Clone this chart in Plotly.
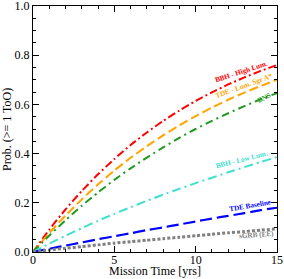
import plotly.graph_objects as go

years = [0, 1, 2, 3, 4, 5, 6, 7, 8, 9, 10, 11, 12, 13, 14, 15]
bbh_high = [0.0, 0.091, 0.173, 0.248, 0.316, 0.378, 0.435, 0.486, 0.533, 0.575, 0.614, 0.649, 0.681, 0.710, 0.736, 0.760]
tde_sgra = [0.0, 0.077, 0.148, 0.214, 0.275, 0.331, 0.383, 0.430, 0.474, 0.515, 0.552, 0.587, 0.619, 0.648, 0.675, 0.700]
bns = [0.0, 0.067, 0.129, 0.188, 0.242, 0.293, 0.340, 0.384, 0.425, 0.464, 0.500, 0.533, 0.564, 0.593, 0.621, 0.646]
bbh_low = [0.0, 0.034, 0.066, 0.097, 0.127, 0.155, 0.182, 0.208, 0.233, 0.257, 0.280, 0.302, 0.324, 0.345, 0.366, 0.386]
tde_base = [0.0, 0.013, 0.026, 0.039, 0.052, 0.064, 0.076, 0.089, 0.100, 0.112, 0.124, 0.136, 0.147, 0.158, 0.170, 0.180]
sgrb = [0.0, 0.008, 0.015, 0.022, 0.029, 0.036, 0.042, 0.048, 0.054, 0.060, 0.066, 0.072, 0.078, 0.083, 0.089, 0.094]

x_title = "Mission Time [yrs]"
y_title = "Prob. (>= 1 ToO)"

series = [
    ("BBH - High Lum.", bbh_high, "#ff0000", "8px,3px,2px,3px", 2, 12.81, 0.731, -18),
    ("TDE - Lum. Sgr A*", tde_sgra, "#ffa500", "9px,4px", 2, 12.99, 0.674, -20),
    ("BNS", bns, "#1f9a1f", "8px,4px,2px,4px", 2, 14.23, 0.628, -27),
    ("BBH - Low Lum.", bbh_low, "#40e0d0", "9px,4px,2px,4px", 2, 12.8, 0.376, -14),
    ("TDE Baseline", tde_base, "#0000ff", "12px,5px", 2.2, 13.33, 0.189, -10),
    ("sGRB (EE)", sgrb, "#808080", "3px,2px", 3, 13.77, 0.071, -4),
]

serif = "Liberation Serif"
fig = go.Figure()
annotations = []
for name, vals, color, dash, w, tx, ty, ang in series:
    fig.add_trace(go.Scatter(x=years, y=vals, mode="lines", name=name,
                             line=dict(color=color, dash=dash, width=w, shape="spline", smoothing=0.6),
                             showlegend=False))
    annotations.append(dict(x=tx, y=ty, xref="x", yref="y", text="<b>" + name + "</b>", showarrow=False,
                            textangle=ang, font=dict(family=serif, size=7.2, color=color)))

annotations.append(dict(x=0.5, y=-0.04, xref="paper", yref="paper", text=x_title, showarrow=False,
                        xanchor="center", yanchor="top", font=dict(family=serif, size=12, color="black")))
annotations.append(dict(x=-0.1066, y=0.5, xref="paper", yref="paper", text=y_title, showarrow=False,
                        xanchor="center", yanchor="middle", textangle=-90,
                        font=dict(family=serif, size=12, color="black")))

axis_common = dict(showgrid=False, zeroline=False, showline=True, linecolor="black", linewidth=1,
                   mirror="ticks", ticks="inside", ticklen=6, tickcolor="black", automargin=False,
                   ticklabeloverflow="allow",
                   tickfont=dict(family=serif, size=12, color="black"))

fig.update_layout(
    width=284, height=279,
    margin=dict(l=33, r=7, t=6, b=27),
    paper_bgcolor="white", plot_bgcolor="white",
    annotations=annotations,
    xaxis=dict(range=[0, 15], tickvals=[0, 5, 10, 15], ticklabelstandoff=-3, **axis_common,
               minor=dict(dtick=1, ticks="inside", ticklen=3, tickcolor="black")),
    yaxis=dict(range=[0, 1], tickvals=[0, 0.2, 0.4, 0.6, 0.8, 1.0], tickformat=".1f", **axis_common,
               minor=dict(dtick=0.05, ticks="inside", ticklen=3, tickcolor="black")),
)

fig.write_html("out.html", config={"displayModeBar": False},
               post_script="document.body.style.margin='0';")
